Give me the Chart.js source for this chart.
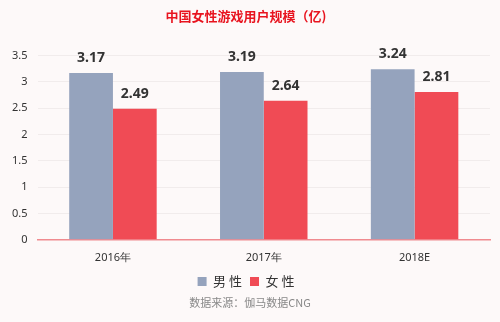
<!DOCTYPE html>
<html>
<head>
<meta charset="utf-8">
<script src="https://cdn.jsdelivr.net/npm/chart.js@4"></script>
<style>
  html, body { margin: 0; padding: 0; background: #fdf9f9; }
  #wrap { position: relative; width: 500px; height: 322px; }
  #src { position: absolute; left: 0; width: 500px; top: 294px; text-align: center;
         font: 11px "Noto Sans CJK SC", sans-serif; color: #888; }
</style>
</head>
<body>
<div id="wrap">
  <canvas id="graph" width="500" height="322"></canvas>
  <div id="src">数据来源：伽马数据CNG</div>
</div>
<script>
const categories = ['2016年', '2017年', '2018E'];
const male = [3.17, 3.19, 3.24];
const female = [2.49, 2.64, 2.81];
const yTicks = [0, 0.5, 1, 1.5, 2, 2.5, 3, 3.5];

// values above bars
const valueLabels = {
  id: 'valueLabels',
  afterDatasetsDraw(chart) {
    const ctx = chart.ctx;
    ctx.save();
    ctx.font = 'bold 14px "Noto Sans", sans-serif';
    ctx.fillStyle = '#333';
    ctx.textAlign = 'center';
    ctx.textBaseline = 'bottom';
    chart.data.datasets.forEach((ds, i) => {
      chart.getDatasetMeta(i).data.forEach((bar, j) => {
        ctx.fillText(ds.data[j].toFixed(2), bar.x, bar.y - 8);
      });
    });
    ctx.restore();
  }
};

new Chart(document.getElementById('graph'), {
  type: 'bar',
  data: {
    labels: categories,
    datasets: [
      { label: '男 性', data: male, backgroundColor: '#95a3bd' },
      { label: '女 性', data: female, backgroundColor: '#f04b55' }
    ]
  },
  options: {
    responsive: false,
    animation: false,
    layout: { padding: { left: 2, right: 10, top: 0, bottom: 24 } },
    datasets: { bar: { categoryPercentage: 0.58, barPercentage: 1 } },
    plugins: {
      title: {
        display: true,
        text: '中国女性游戏用户规模（亿)',
        color: '#e8141f',
        font: { family: '"Noto Sans CJK SC", sans-serif', size: 13, weight: 'bold' },
        padding: { top: 8, bottom: 32 }
      },
      legend: {
        position: 'bottom',
        labels: {
          boxWidth: 9, boxHeight: 9, padding: 8,
          color: '#333',
          font: { family: '"Noto Sans CJK SC", sans-serif', size: 13 }
        }
      },
      tooltip: { enabled: false }
    },
    scales: {
      x: {
        grid: { display: false },
        border: { color: '#f08b90', width: 1.5 },
        ticks: { color: '#333', font: { family: '"Noto Sans", sans-serif', size: 11 } }
      },
      y: {
        min: 0, max: 3.5,
        afterBuildTicks(axis) { axis.ticks = yTicks.map(v => ({ value: v })); },
        grid: { color: '#f1ecec', drawTicks: false },
        border: { display: false },
        ticks: {
          color: '#333', padding: 10,
          font: { family: '"Noto Sans", sans-serif', size: 11 },
          callback: v => String(v)
        }
      }
    }
  },
  plugins: [valueLabels]
});
</script>
</body>
</html>
